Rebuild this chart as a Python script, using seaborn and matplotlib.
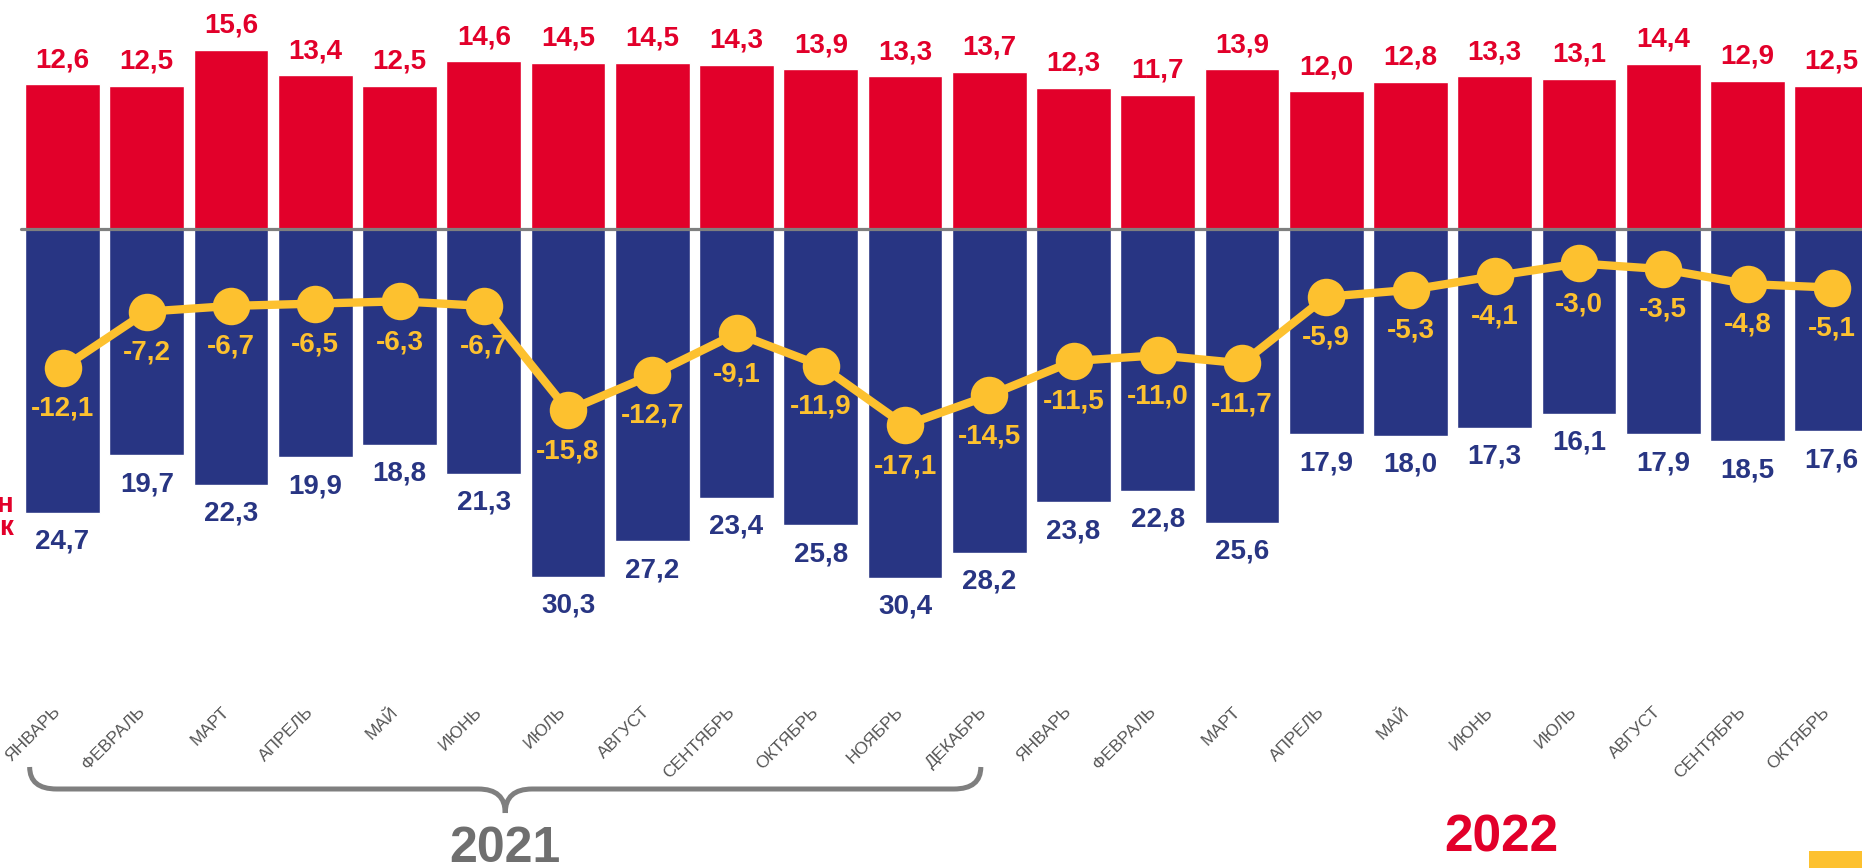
import numpy as np
import pandas as pd
import matplotlib
matplotlib.use('Agg')
import matplotlib.pyplot as plt
from matplotlib.path import Path
from matplotlib.patches import PathPatch, Rectangle
from matplotlib.transforms import blended_transform_factory, ScaledTranslation
import seaborn as sns

# Data
periods = ['2021-01', '2021-02', '2021-03', '2021-04', '2021-05', '2021-06',
           '2021-07', '2021-08', '2021-09', '2021-10', '2021-11', '2021-12',
           '2022-01', '2022-02', '2022-03', '2022-04', '2022-05', '2022-06',
           '2022-07', '2022-08', '2022-09', '2022-10']
month_labels = ['ЯНВАРЬ', 'ФЕВРАЛЬ', 'МАРТ', 'АПРЕЛЬ', 'МАЙ', 'ИЮНЬ',
                'ИЮЛЬ', 'АВГУСТ', 'СЕНТЯБРЬ', 'ОКТЯБРЬ', 'НОЯБРЬ', 'ДЕКАБРЬ',
                'ЯНВАРЬ', 'ФЕВРАЛЬ', 'МАРТ', 'АПРЕЛЬ', 'МАЙ', 'ИЮНЬ',
                'ИЮЛЬ', 'АВГУСТ', 'СЕНТЯБРЬ', 'ОКТЯБРЬ']
exports = [12.6, 12.5, 15.6, 13.4, 12.5, 14.6, 14.5, 14.5, 14.3, 13.9, 13.3, 13.7,
           12.3, 11.7, 13.9, 12.0, 12.8, 13.3, 13.1, 14.4, 12.9, 12.5]
imports = [24.7, 19.7, 22.3, 19.9, 18.8, 21.3, 30.3, 27.2, 23.4, 25.8, 30.4, 28.2,
           23.8, 22.8, 25.6, 17.9, 18.0, 17.3, 16.1, 17.9, 18.5, 17.6]
balance = [-12.1, -7.2, -6.7, -6.5, -6.3, -6.7, -15.8, -12.7, -9.1, -11.9, -17.1, -14.5,
           -11.5, -11.0, -11.7, -5.9, -5.3, -4.1, -3.0, -3.5, -4.8, -5.1]
year_labels = ['2021', '2022']

RED = '#E2002A'
NAVY = '#283583'
YELLOW = '#FDC12F'
GRAY = '#7F7F7F'

sns.set_style('white')
plt.rcParams['font.family'] = ['Liberation Sans', 'DejaVu Sans']


def fmt(v):
    return f'{v:.1f}'.replace('.', ',')


df = pd.DataFrame({'period': periods, 'exports': exports,
                   'imports_neg': [-v for v in imports], 'balance': balance})
pos = np.arange(len(periods))

fig = plt.figure(figsize=(18.62, 8.68), dpi=100)
# axes from top of figure down to y=700px
ax = fig.add_axes([0, 168 / 868, 1, 700 / 868])

sns.barplot(data=df, x='period', y='exports', order=periods, color=RED,
            width=0.89, saturation=1, ax=ax, zorder=2)
sns.barplot(data=df, x='period', y='imports_neg', order=periods, color=NAVY,
            width=0.89, saturation=1, ax=ax, zorder=2)
ax.axhline(0, xmin=21 / 1862, xmax=1, color=GRAY, lw=2.3, zorder=3)

sns.lineplot(x=pos, y=df['balance'], color=YELLOW, lw=6, marker='o',
             markersize=27, markeredgewidth=0, ax=ax, zorder=4)

# Value labels
for i in pos:
    ax.annotate(fmt(exports[i]), (i, exports[i]), xytext=(0, 8), textcoords='offset points',
                ha='center', va='bottom', fontsize=20, fontweight='bold', color=RED)
    ax.annotate(fmt(imports[i]), (i, -imports[i]), xytext=(0, -11.5), textcoords='offset points',
                ha='center', va='top', fontsize=20, fontweight='bold', color=NAVY)
    ax.annotate(fmt(balance[i]), (i, balance[i]), xytext=(0, -20), textcoords='offset points',
                ha='center', va='top', fontsize=20, fontweight='bold', color=YELLOW, zorder=5)

ax.set_xlim(-62.5 / 84.25, (1862 - 62.5) / 84.25)
ax.set_ylim(-(700 - 229) / 11.48, 229 / 11.48)
ax.set_yticks([])
ax.set_xticks(pos)
ax.set_xticklabels(month_labels, rotation=45, ha='right', rotation_mode='anchor',
                   fontsize=12.5, color='#555555')
ax.tick_params(axis='x', length=0, pad=3)
offset = ScaledTranslation(-7 / 72, 0, fig.dpi_scale_trans)
for lbl in ax.get_xticklabels():
    lbl.set_transform(lbl.get_transform() + offset)
ax.set_xlabel('')
ax.set_ylabel('')
for s in ax.spines.values():
    s.set_visible(False)

# Brace under 2021
tr = blended_transform_factory(ax.transData, fig.transFigure)
x0, x1 = -0.39, 10.9
xc = (x0 + x1) / 2
r = 0.32
ytop, ymid, ybot = (868 - 767) / 868, (868 - 789) / 868, (868 - 813) / 868
verts = [(x0, ytop), (x0, ymid), (x0 + r, ymid), (xc - r, ymid), (xc, ymid), (xc, ybot),
         (xc, ybot), (xc, ymid), (xc + r, ymid), (x1 - r, ymid), (x1, ymid), (x1, ytop)]
codes = [Path.MOVETO, Path.CURVE3, Path.CURVE3, Path.LINETO, Path.CURVE3, Path.CURVE3,
         Path.MOVETO, Path.CURVE3, Path.CURVE3, Path.LINETO, Path.CURVE3, Path.CURVE3]
fig.patches.append(PathPatch(Path(verts, codes), transform=tr, fill=False,
                             edgecolor=GRAY, lw=3.6, capstyle='butt'))

# Year labels
fig.text(xc, (868 - 862) / 868, year_labels[0], transform=tr, ha='center', va='baseline',
         fontsize=36, fontweight='bold', color='#6F6F6F')
fig.text(17.08, (868 - 852) / 868, year_labels[1], transform=tr, ha='center', va='baseline',
         fontsize=37, fontweight='bold', color=RED)

# Cut-off legend text at left edge and yellow corner block
fig.text(13 / 1862, (868 - 512) / 868, 'н', ha='right', va='baseline',
         fontsize=20, fontweight='bold', color=RED)
fig.text(13 / 1862, (868 - 535) / 868, 'к', ha='right', va='baseline',
         fontsize=20, fontweight='bold', color=RED)
fig.patches.append(Rectangle((1809 / 1862, 0), 53 / 1862, 17 / 868,
                             transform=fig.transFigure, color=YELLOW, lw=0))

fig.savefig('out.png', dpi=100)
